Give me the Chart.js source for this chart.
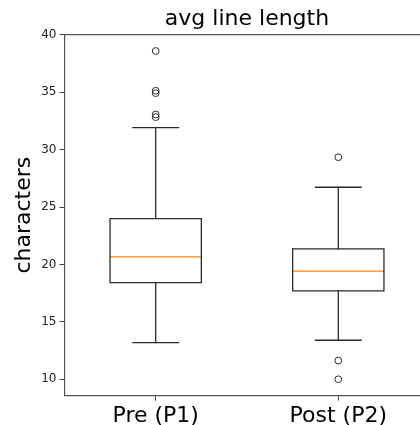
<!DOCTYPE html>
<html><head><meta charset="utf-8">
<script src="https://cdn.jsdelivr.net/npm/chart.js@4"></script>
<style>html,body{margin:0;padding:0;overflow:hidden;background:#fff;width:420px;height:425px}</style>
</head><body>
<canvas id="c" width="440" height="425" style="width:440px;height:425px;display:block"></canvas>
<script>
const categories = ['Pre (P1)', 'Post (P2)'];
const whiskerLow = [13.2, 13.4];
const q1 = [18.42, 17.70];
const median = [20.66, 19.42];
const q3 = [24.0, 21.36];
const whiskerHigh = [31.93, 26.73];
const outliersPre = [38.6, 35.14, 34.93, 33.07, 32.84];
const outliersPost = [29.35, 11.63, 10.0];
const yTicks = [10, 15, 20, 25, 30, 35, 40];
const outliers = [outliersPre, outliersPost];

const BOX_W = 0.5, CAP_W = 0.25;
const LINE = '#2b2b2b', MED = '#ff7f0e';
const FONT = 'DejaVu Sans';
const datasets = [];
function seg(pts, color){
  datasets.push({type:'scatter', data: pts, showLine:true, borderColor: color, borderWidth:1.3,
    pointRadius:0, fill:false, borderJoinStyle:'miter', borderCapStyle:'square'});
}
categories.forEach((c,i)=>{
  const p = i+1, h = BOX_W/2, k = CAP_W/2;
  seg([{x:p-h,y:q1[i]},{x:p+h,y:q1[i]},{x:p+h,y:q3[i]},{x:p-h,y:q3[i]},{x:p-h,y:q1[i]}], LINE);
  seg([{x:p,y:q3[i]},{x:p,y:whiskerHigh[i]}], LINE);
  seg([{x:p,y:q1[i]},{x:p,y:whiskerLow[i]}], LINE);
  seg([{x:p-k,y:whiskerHigh[i]},{x:p+k,y:whiskerHigh[i]}], LINE);
  seg([{x:p-k,y:whiskerLow[i]},{x:p+k,y:whiskerLow[i]}], LINE);
  datasets.push({type:'scatter', data:[{x:p-h,y:median[i]},{x:p+h,y:median[i]}], showLine:true,
    borderColor:MED, borderWidth:1.3, pointRadius:0, fill:false});
  datasets.push({type:'scatter', data: outliers[i].map(v=>({x:p,y:v})), showLine:false,
    pointRadius:3.4, pointStyle:'circle', borderColor:LINE, borderWidth:1, backgroundColor:'rgba(0,0,0,0)'});
});

new Chart(document.getElementById('c'), {
  type:'scatter',
  data:{datasets},
  options:{
    responsive:false, animation:false, events:[],
    layout:{padding:{left:0,right:10.4,top:0,bottom:0}},
    plugins:{ legend:{display:false}, tooltip:{enabled:false}, title:{display:false} },
    scales:{
      x:{type:'linear', position:'bottom', min:0.5, max:2.5,
        afterBuildTicks: s=>{ s.ticks = categories.map((c,i)=>({value:i+1})); },
        ticks:{callback:v=>categories[Math.round(v)-1], font:{family:FONT,size:22}, color:'#000',
          padding:2, maxRotation:0, autoSkip:false},
        grid:{drawOnChartArea:false, drawTicks:true, tickLength:5, tickColor:'#444', tickWidth:1},
        border:{display:true, color:'#555', width:1.2},
        afterFit: s=>{ s.height = 29.3; }
      },
      x2:{type:'linear', position:'top', min:0.5, max:2.5, display:true,
        ticks:{display:false}, grid:{display:false, drawTicks:false},
        border:{display:true, color:'#555', width:1.2},
        title:{display:true, text:'avg line length', color:'#000',
          font:{family:FONT, size:22, lineHeight:1.2}, padding:{top:6.5,bottom:0}},
        afterFit: s=>{ s.height = 34.6; }
      },
      y:{type:'linear', position:'left', min:8.57, max:40.03,
        afterBuildTicks: s=>{ s.ticks = yTicks.map(v=>({value:v})); },
        ticks:{font:{family:FONT,size:12}, color:'#222', padding:3},
        grid:{drawOnChartArea:false, drawTicks:true, tickLength:5, tickColor:'#444', tickWidth:1},
        border:{display:true, color:'#555', width:1.2},
        title:{display:true, text:'characters', color:'#000', font:{family:FONT,size:22}, padding:{top:11.5,bottom:0}},
        afterFit: s=>{ s.width = 64.4; }
      }
    }
  }
});
</script>
</body></html>
